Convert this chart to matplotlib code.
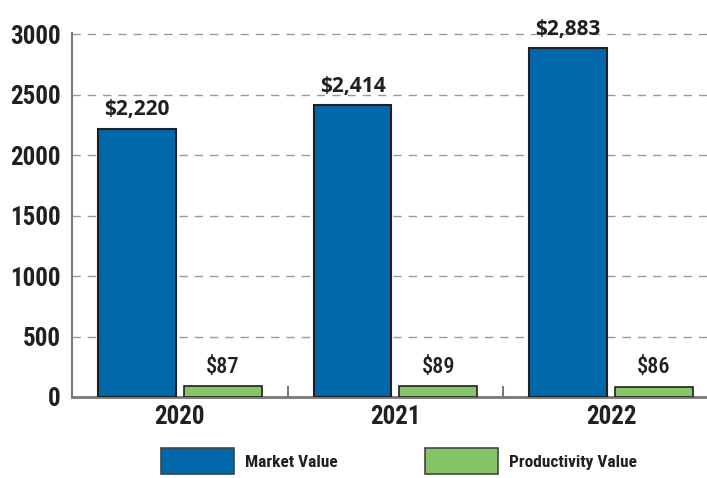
import matplotlib
matplotlib.use("Agg")
import matplotlib.pyplot as plt
import numpy as np
from matplotlib.patches import Patch
from matplotlib import font_manager

years = ["2020", "2021", "2022"]
market_value = [2220, 2414, 2883]
productivity_value = [87, 89, 86]
market_labels = ["$2,220", "$2,414", "$2,883"]
productivity_labels = ["$87", "$89", "$86"]
yticks = [0, 500, 1000, 1500, 2000, 2500, 3000]

BLUE = "#0068AA"
GREEN = "#84C565"
EDGE = "#231F20"
TXT = "#231F20"

avail = {f.name for f in font_manager.fontManager.ttflist}
cond_fams = ["Roboto Condensed", "Liberation Sans Narrow", "Open Sans Condensed",
             "Noto Sans Condensed", "DejaVu Sans Condensed"]
fam = next((f for f in cond_fams if f in avail), None)
if fam is not None:
    plt.rcParams["font.family"] = [fam, "DejaVu Sans"]
    scale = 1.0
else:
    plt.rcParams["font.family"] = ["DejaVu Sans"]
    plt.rcParams["font.stretch"] = "condensed"
    scale = 0.85

VAL_FAM = ["Open Sans", "DejaVu Sans"]
FS_TICK = 18 * scale
FS_VAL = 15
FS_PVAL = 16 * scale
FS_LEG = 12.5 * scale

fig = plt.figure(figsize=(7.07, 4.78), dpi=100)
ax = fig.add_axes([72/707, 81/478, 1 - 72/707, (397-33)/478])

x = np.arange(len(years))
off = 0.199
w = 0.361
b1 = ax.bar(x - off, market_value, w, color=BLUE, edgecolor=EDGE, linewidth=1.5, zorder=3)
b2 = ax.bar(x + off, productivity_value, w, color=GREEN, edgecolor=EDGE, linewidth=1.2, zorder=3)

for rect, lab in zip(b1, market_labels):
    ax.annotate(lab, (rect.get_x() + rect.get_width()/2, rect.get_height()),
                xytext=(0, 6), textcoords="offset points", ha="center", va="bottom",
                fontsize=FS_VAL, fontweight="bold", family=VAL_FAM, color=TXT)
for rect, lab in zip(b2, productivity_labels):
    ax.annotate(lab, (rect.get_x() + rect.get_width()/2, rect.get_height()),
                xytext=(0, 6), textcoords="offset points", ha="center", va="bottom",
                fontsize=FS_PVAL, fontweight="medium", color=TXT)

ax.set_xlim(-0.5, 2.445)
ax.set_ylim(0, 3010)
ax.set_yticks(yticks)
ax.set_yticklabels([str(v) for v in yticks], fontsize=FS_TICK, fontweight="bold", color=TXT)
ax.set_xticks(x)
ax.set_xticklabels(years, fontsize=FS_TICK, fontweight="bold", color=TXT)
ax.set_xticks([0.5, 1.5], minor=True)
ax.tick_params(axis="x", which="major", length=0, pad=6)
ax.tick_params(axis="x", which="minor", length=8, width=1.5, direction="in", color="#777777")
ax.tick_params(axis="y", length=0, pad=8)

for v in yticks[1:]:
    ax.axhline(v, color="#9a9a9a", linewidth=1, linestyle=(0, (6, 5)), zorder=1)

for s in ["top", "right"]:
    ax.spines[s].set_visible(False)
ax.spines["left"].set_color("#777777")
ax.spines["left"].set_linewidth(1.5)
ax.spines["bottom"].set_color("#777777")
ax.spines["bottom"].set_linewidth(2)

handles = [Patch(facecolor=BLUE, edgecolor="#444444", linewidth=1.2, label="Market Value"),
           Patch(facecolor=GREEN, edgecolor="#444444", linewidth=1.2, label="Productivity Value")]
leg = fig.legend(handles=handles, loc="center", bbox_to_anchor=(399/707, 1 - 461/478),
                 ncol=2, frameon=False, handlelength=4.2, handleheight=1.9,
                 handletextpad=0.63, columnspacing=5.0,
                 prop={"size": FS_LEG, "weight": "bold"})
for t in leg.get_texts():
    t.set_color(TXT)

fig.savefig("out.png", dpi=100)
